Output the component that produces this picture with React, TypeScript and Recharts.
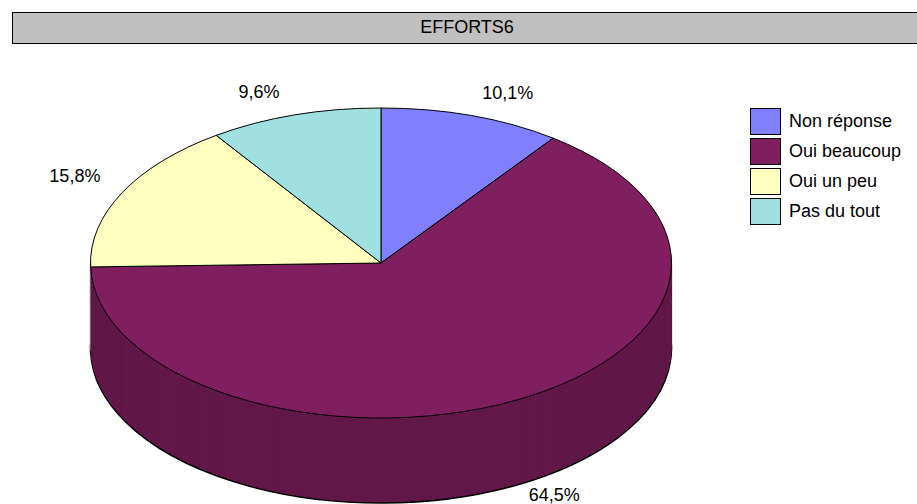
import React from 'react';
import { PieChart, Pie, Cell, Legend, Customized } from 'recharts';

const title = 'EFFORTS6';
const categories = ['Non réponse', 'Oui beaucoup', 'Oui un peu', 'Pas du tout'];
const values = [10.1, 64.5, 15.8, 9.6];
const topColors = ['#8080FF', '#7F1F5F', '#FFFFC0', '#A0E0E0'];
const sideColors = ['#6464C8', '#621849', '#C8C896', '#7DAFAF'];

const W = 917;
const H = 504;
const CX = 381;
const CY = 263;
const RX = 290.5;
const RY = 155;
const DEPTH = 85;
const K = RY / RX;
const FONT = '"Liberation Sans", Arial, Helvetica, sans-serif';

const data = categories.map((name, i) => ({ name, value: values[i] }));
const depthSteps: number[] = [];
for (let o = DEPTH; o >= 1; o--) depthSteps.push(o);

const fmt = (v: number) => v.toFixed(1).replace('.', ',') + '%';

const renderLabel = (props: any) => {
  const { midAngle, index } = props;
  const rad = (midAngle * Math.PI) / 180;
  const nx = Math.cos(rad);
  const ny = Math.sin(rad);
  const R = 1.17;
  const x = CX + R * RX * nx + 30 * (1 - Math.abs(nx)) * Math.sign(nx);
  let y = CY - R * RY * ny - 14 * (1 - Math.abs(ny)) * Math.sign(ny) + 3 + (ny < 0 ? DEPTH : 0);
  y = Math.min(y, H - 9);
  return (
    <text
      key={`lbl-${index}`}
      x={x}
      y={y}
      textAnchor="middle"
      dominantBaseline="central"
      fontFamily={FONT}
      fontSize={18}
      fill="#000"
    >
      {fmt(values[index])}
    </text>
  );
};

const renderLegend = () => (
  <div style={{ fontFamily: FONT, fontSize: 18, color: '#000' }}>
    {categories.map((c, i) => (
      <div key={c} style={{ display: 'flex', alignItems: 'center', height: 30 }}>
        <div
          style={{
            width: 31,
            height: 27,
            boxSizing: 'border-box',
            border: '1.5px solid #000',
            background: topColors[i],
            marginRight: 8,
          }}
        />
        <span style={{ whiteSpace: 'nowrap' }}>{c}</span>
      </div>
    ))}
  </div>
);

const SideEdges = () => (
  <g>
    <line x1={CX - RX} y1={CY} x2={CX - RX} y2={CY + DEPTH} stroke="#000" strokeWidth={1.2} />
    <line x1={CX + RX} y1={CY} x2={CX + RX} y2={CY + DEPTH} stroke="#000" strokeWidth={1.2} />
  </g>
);

export default function App() {
  return (
    <div style={{ position: 'absolute', left: 0, top: 0, width: W, height: H, background: '#fff', overflow: 'hidden' }}>
      <style>{`
        path.recharts-sector {
          transform: scaleY(${K});
          transform-origin: 0 0;
          transform-box: view-box;
          vector-effect: non-scaling-stroke;
        }
      `}</style>
      <div
        style={{
          position: 'absolute',
          left: 12,
          top: 12,
          width: 920,
          height: 32,
          boxSizing: 'border-box',
          background: '#C0C0C0',
          border: '1.5px solid #000',
          fontFamily: FONT,
          fontSize: 18,
          lineHeight: '29px',
          textAlign: 'center',
          color: '#000',
          zIndex: 2,
        }}
      >
        <span style={{ position: 'relative', left: -5 }}>{title}</span>
      </div>
      <PieChart width={W} height={H} margin={{ top: 0, right: 0, bottom: 0, left: 0 }}>
        {depthSteps.map((o) => (
          <Pie
            key={`side-${o}`}
            data={data}
            dataKey="value"
            nameKey="name"
            cx={CX}
            cy={(CY + o) / K}
            outerRadius={RX}
            startAngle={90}
            endAngle={-270}
            stroke={o === DEPTH ? '#000' : 'none'}
            strokeWidth={o === DEPTH ? 1.5 : 0}
            isAnimationActive={false}
            legendType="none"
            label={false}
            labelLine={false}
          >
            {data.map((d, i) => (
              <Cell key={d.name} fill={sideColors[i]} />
            ))}
          </Pie>
        ))}
        <Customized component={SideEdges} />
        <Pie
          data={data}
          dataKey="value"
          nameKey="name"
          cx={CX}
          cy={CY / K}
          outerRadius={RX}
          startAngle={90}
          endAngle={-270}
          stroke="#000"
          strokeWidth={1}
          isAnimationActive={false}
          label={renderLabel}
          labelLine={false}
        >
          {data.map((d, i) => (
            <Cell key={d.name} fill={topColors[i]} />
          ))}
        </Pie>
        <Legend
          content={renderLegend}
          wrapperStyle={{ position: 'absolute', left: 750, top: 106, width: 167, bottom: 'auto', right: 'auto' }}
        />
      </PieChart>
    </div>
  );
}
